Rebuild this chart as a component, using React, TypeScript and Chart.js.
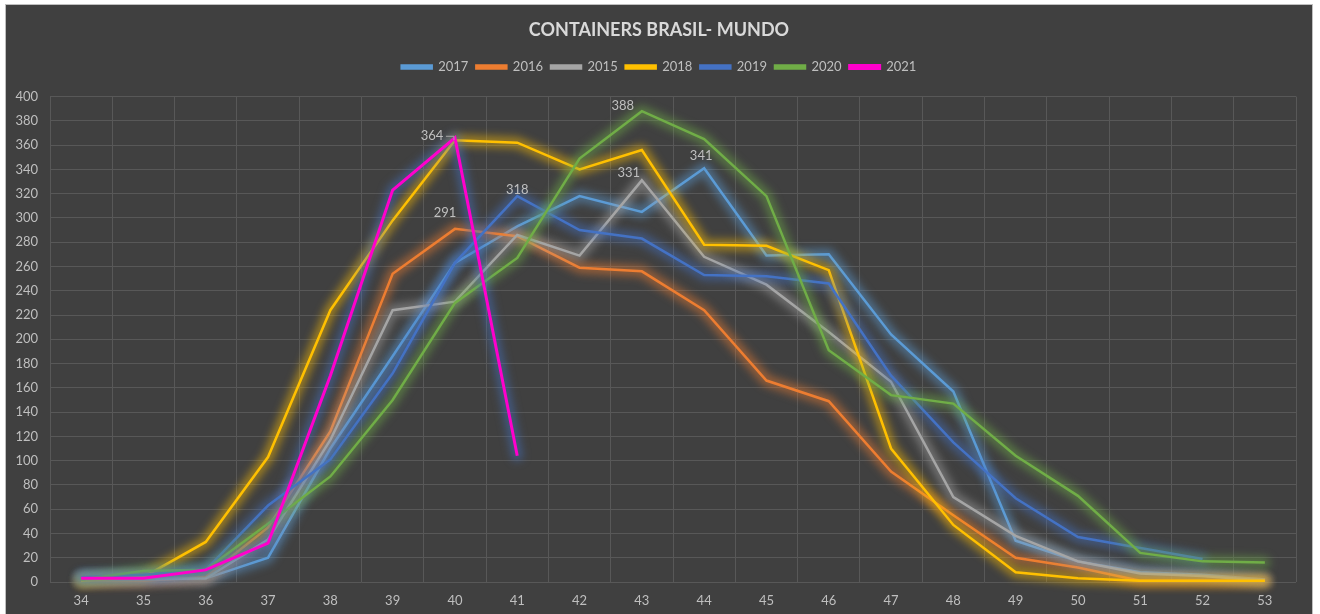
import React, { useEffect, useRef } from 'react';
import { Chart, registerables } from 'chart.js';

Chart.register(...registerables);

const weeks = ['34', '35', '36', '37', '38', '39', '40', '41', '42', '43', '44', '45', '46', '47', '48', '49', '50', '51', '52', '53'];
const seriesNames = ['2017', '2016', '2015', '2018', '2019', '2020', '2021'];
const s2017 = [4, 4, 3, 20, 110, 186, 263, 293, 318, 305, 341, 269, 270, 204, 157, 34, 17, 8, 6, 2];
const s2016 = [1, 1, 4, 45, 124, 254, 291, 285, 259, 256, 224, 166, 149, 91, 55, 20, 12, 1, 1, 1];
const s2015 = [2, 2, 3, 35, 117, 224, 231, 286, 269, 331, 268, 245, 206, 165, 70, 38, 17, 7, 5, 1];
const s2018 = [1, 4, 33, 103, 224, 298, 364, 362, 340, 356, 278, 277, 257, 110, 47, 8, 3, 1, 1, 1];
const s2019 = [4, 6, 10, 63, 101, 172, 263, 318, 290, 283, 253, 252, 246, 170, 115, 69, 37, 28, 19, null];
const s2020 = [2, 9, 10, 48, 87, 150, 230, 267, 349, 388, 365, 318, 191, 154, 147, 104, 71, 24, 17, 16];
const s2021 = [3, 3, 10, 32, 170, 323, 366, 104, null, null, null, null, null, null, null, null, null, null, null, null];
const seriesValues = [s2017, s2016, s2015, s2018, s2019, s2020, s2021];
const seriesColors = ['#5B9BD5', '#ED7D31', '#A5A5A5', '#FFC000', '#4472C4', '#70AD47', '#FF00CC'];
const glowColors = ['#5B9BD5', '#ED7D31', '#A5A5A5', '#FFC000', '#4472C4', '#70AD47', '#4472C4'];
const yTicks = [0, 400, 20];

// data labels: series index, week label, offset placement
const labelSpecs = [
  { series: 3, week: '40', dx: -23, dy: -4, leader: true },
  { series: 1, week: '40', dx: -10, dy: -16, leader: false },
  { series: 4, week: '41', dx: 0, dy: -6, leader: false },
  { series: 5, week: '43', dx: -19, dy: -5, leader: false },
  { series: 2, week: '43', dx: -13, dy: -8, leader: false },
  { series: 0, week: '44', dx: -3, dy: -12, leader: false },
];

const FONT = 'Lato, "Noto Sans", sans-serif';

function rgba(hex: string, a: number) {
  const n = parseInt(hex.slice(1), 16);
  return `rgba(${(n >> 16) & 255},${(n >> 8) & 255},${n & 255},${a})`;
}

const glowPlugin = {
  id: 'glow',
  beforeDatasetDraw(chart: any, args: any) {
    const ctx = chart.ctx;
    const pts = args.meta.data;
    ctx.save();
    ctx.filter = 'blur(4px)';
    ctx.strokeStyle = rgba(glowColors[args.index], 0.5);
    ctx.lineWidth = 11;
    ctx.lineJoin = 'round';
    ctx.lineCap = 'round';
    ctx.beginPath();
    let started = false;
    pts.forEach((p: any) => {
      if (p.skip) { started = false; return; }
      if (!started) { ctx.moveTo(p.x, p.y); started = true; } else ctx.lineTo(p.x, p.y);
    });
    ctx.stroke();
    ctx.restore();
  },
};

const labelPlugin = {
  id: 'pointLabels',
  afterDatasetsDraw(chart: any) {
    const ctx = chart.ctx;
    const xs = chart.scales.x;
    const ys = chart.scales.y;
    ctx.save();
    ctx.font = `13px ${FONT}`;
    ctx.fillStyle = '#BFBFBF';
    ctx.textAlign = 'center';
    ctx.textBaseline = 'middle';
    labelSpecs.forEach((l) => {
      const idx = weeks.indexOf(l.week);
      const v = seriesValues[l.series][idx] as number;
      const px = xs.getPixelForValue(idx);
      const py = ys.getPixelForValue(v);
      const tx = px + l.dx;
      const ty = py + l.dy;
      ctx.fillText(String(v), tx, ty);
      if (l.leader) {
        ctx.strokeStyle = '#A6A6A6';
        ctx.lineWidth = 1;
        ctx.beginPath();
        ctx.moveTo(tx + 14, ty);
        ctx.lineTo(px - 1, ty);
        ctx.lineTo(px - 1, py);
        ctx.stroke();
      }
    });
    ctx.restore();
  },
};

export default function App() {
  const ref = useRef<HTMLCanvasElement>(null);
  useEffect(() => {
    if (!ref.current) return;
    const chart = new Chart(ref.current, {
      type: 'line',
      data: {
        labels: weeks,
        datasets: seriesNames.map((name, i) => ({
          label: name,
          data: seriesValues[i],
          borderColor: seriesColors[i],
          backgroundColor: seriesColors[i],
          borderWidth: i === 6 ? 3 : 2.5,
          pointRadius: 0,
          pointHoverRadius: 0,
          tension: 0,
          spanGaps: false,
          order: -i,
        })),
      },
      options: {
        responsive: false,
        animation: false,
        maintainAspectRatio: false,
        layout: { padding: 0 },
        plugins: {
          title: {
            display: true,
            text: 'CONTAINERS BRASIL- MUNDO',
            color: '#D9D9D9',
            font: { family: FONT, size: 18, weight: 'bold' },
            padding: { top: 14, bottom: 12 },
          },
          legend: {
            display: true,
            position: 'top',
            labels: {
              color: '#BFBFBF',
              font: { family: FONT, size: 13 },
              boxWidth: 30,
              boxHeight: 3,
              padding: 8,
              sort: (a: any, b: any) => a.datasetIndex - b.datasetIndex,
            },
          },
          tooltip: { enabled: false },
        },
        scales: {
          x: {
            offset: true,
            grid: { color: '#585858', lineWidth: 1, drawTicks: false, offset: true },
            border: { display: false },
            ticks: { color: '#BFBFBF', font: { family: FONT, size: 13 }, padding: 11, maxRotation: 0 },
            afterFit: (s: any) => { s.height = 32; },
          },
          xTopSpacer: {
            type: 'category',
            position: 'top',
            grid: { display: false },
            border: { display: false },
            ticks: { display: false },
            afterFit: (s: any) => { s.height = 13; },
          },
          y: {
            min: yTicks[0],
            max: yTicks[1],
            grid: { color: '#585858', lineWidth: 1, drawTicks: false },
            border: { display: false },
            ticks: { stepSize: yTicks[2], color: '#BFBFBF', font: { family: FONT, size: 13 }, padding: 12 },
            afterFit: (s: any) => { s.width = 44; },
          },
          yRightSpacer: {
            type: 'linear',
            position: 'right',
            grid: { display: false },
            border: { display: false },
            ticks: { display: false },
            afterFit: (s: any) => { s.width = 16; },
          },
        },
      },
      plugins: [glowPlugin, labelPlugin],
    });
    return () => chart.destroy();
  }, []);

  return (
    <div style={{ position: 'fixed', left: 0, top: 0, width: 1320, height: 614, background: '#ffffff', overflow: 'hidden' }}>
      <div style={{ position: 'absolute', left: 5, top: 4, width: 1308, height: 612, background: '#404040', border: '1px solid #BFBFBF', boxSizing: 'border-box' }}>
        <canvas ref={ref} width={1306} height={609} style={{ position: 'absolute', left: 0, top: 0 }} />
      </div>
    </div>
  );
}
